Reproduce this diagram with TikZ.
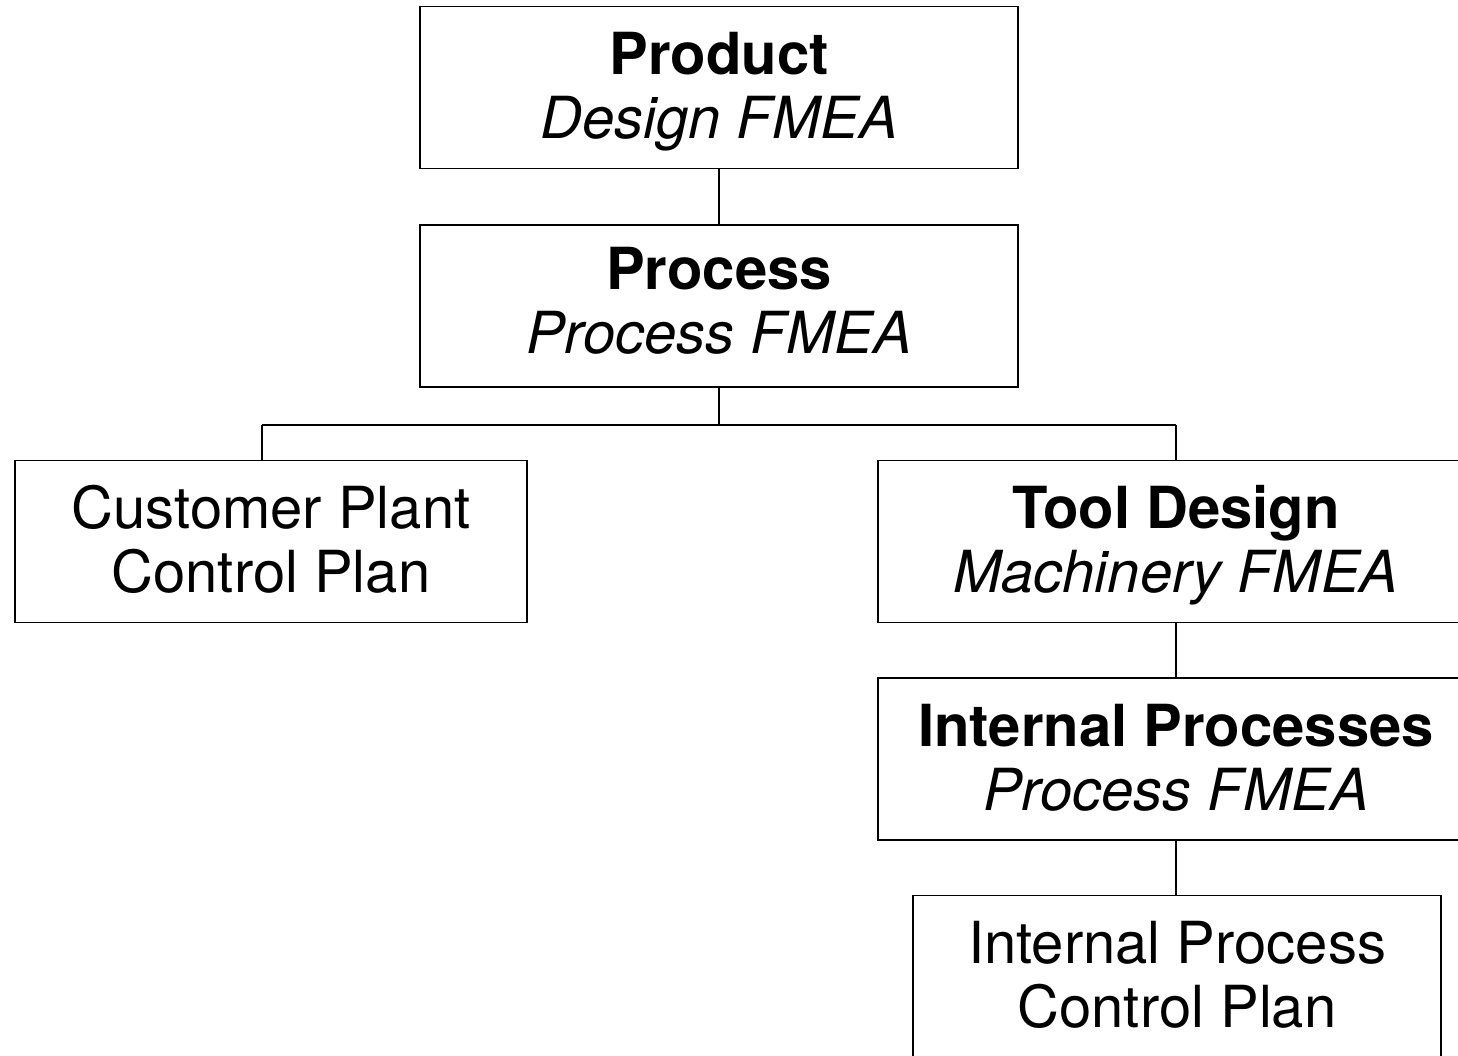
\documentclass[tikz,border=0pt]{standalone}
\usepackage{fontspec}
\setmainfont{TeX Gyre Heros}
\newcommand{\twolines}[2]{\rule{0pt}{50pt}#1\\#2\rule[-12pt]{0pt}{12pt}}
\newcommand{\twolinesup}[2]{\rule{0pt}{40pt}#1\\#2\rule[-12pt]{0pt}{12pt}}
\tikzset{
  box/.style={draw, line width=1.8pt, inner sep=0pt, minimum height=162pt, align=center,
    font=\fontsize{58}{64}\selectfont},
  conn/.style={line width=1.8pt}
}
\begin{document}
\begin{tikzpicture}[x=1pt,y=-1pt]
\useasboundingbox (0,0) rectangle (1458,1055);
\node[box, minimum width=598pt] (prod) at (719,87.5) {\twolines{\textbf{Product}}{\textit{Design FMEA}}};
\node[box, minimum width=598pt] (proc) at (719,306) {\twolinesup{\textbf{Process}}{\textit{Process FMEA}}};
\node[box, minimum width=512pt] (cust) at (271,541.5) {\twolines{Customer Plant}{Control Plan}};
\node[box, minimum width=596pt] (tool) at (1176,541.5) {\twolines{\textbf{Tool Design}}{\textit{Machinery FMEA}}};
\node[box, minimum width=596pt] (intp) at (1176,759) {\twolines{\textbf{Internal Processes}}{\textit{Process FMEA}}};
\node[box, minimum width=528pt] (ipcp) at (1177,976.5) {\twolines{Internal Process}{Control Plan}};
\coordinate (bus) at (719,425);
\coordinate (busL) at (262,425);
\coordinate (busR) at (1176,425);
\draw[conn] (prod.south) -- (proc.north);
\draw[conn] (proc.south) -- (bus);
\draw[conn] (busL) -- (busR);
\draw[conn] (busL) -- (busL |- cust.north);
\draw[conn] (busR) -- (tool.north);
\draw[conn] (tool.south) -- (intp.north);
\draw[conn] (intp.south) -- (intp.south |- ipcp.north);
\end{tikzpicture}
\end{document}
